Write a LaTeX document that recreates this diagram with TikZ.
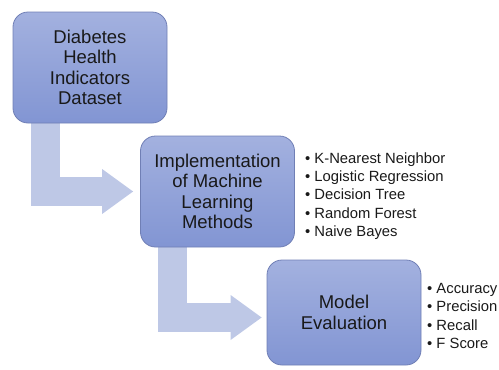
\documentclass[tikz,border=0pt]{standalone}
\usepackage{fontspec}
\setmainfont{Liberation Sans}
\usetikzlibrary{arrows.meta,backgrounds}
\definecolor{boxtop}{RGB}{163,177,223}
\definecolor{boxbottom}{RGB}{130,149,211}
\definecolor{boxline}{RGB}{112,127,181}
\definecolor{arrowfill}{RGB}{190,200,230}
\definecolor{txt}{RGB}{25,25,25}
\tikzset{
  stage/.style={rectangle, rounded corners=15pt, draw=boxline, line width=0.8pt,
    top color=boxtop, bottom color=boxbottom, minimum width=154pt,
    minimum height=111pt, align=center, text=txt, inner sep=0pt,
    font=\fontsize{18.5}{20.5}\selectfont},
  items/.style={anchor=west, align=left, text=txt, inner sep=0pt,
    font=\fontsize{14.8}{18.4}\selectfont},
  flow/.style={arrowfill, line width=29pt,
    -{Triangle[length=31pt,width=45pt,line width=0pt]}}
}
\begin{document}
\begin{tikzpicture}[x=1pt,y=-1pt]
  \useasboundingbox (0,0) rectangle (499,370);
  % stages
  \node[stage] (data) at (90,67.5) {Diabetes\\Health\\Indicators\\Dataset};
  \node[stage] (impl) at (217.5,191.5) {Implementation\\of Machine\\Learning\\Methods};
  \node[stage,minimum height=105pt] (eval) at (344,312.5) {Model\\Evaluation};
  % bullet lists
  \node[items] (methods) at (305,196) {• K-Nearest Neighbor\\• Logistic Regression\\• Decision Tree\\• Random Forest\\• Naive Bayes};
  \node[items] (metrics) at (427,316) {• Accuracy\\• Precision\\• Recall\\• F Score};
  % bent arrows
  \begin{scope}[on background layer]
    \draw[flow] ([xshift=33pt]data.south west) |- ([xshift=-7pt]impl.west);
    \draw[flow] ([xshift=32.5pt]impl.south west) |- ([xshift=-5pt,yshift=-5pt]eval.west);
  \end{scope}
\end{tikzpicture}
\end{document}
